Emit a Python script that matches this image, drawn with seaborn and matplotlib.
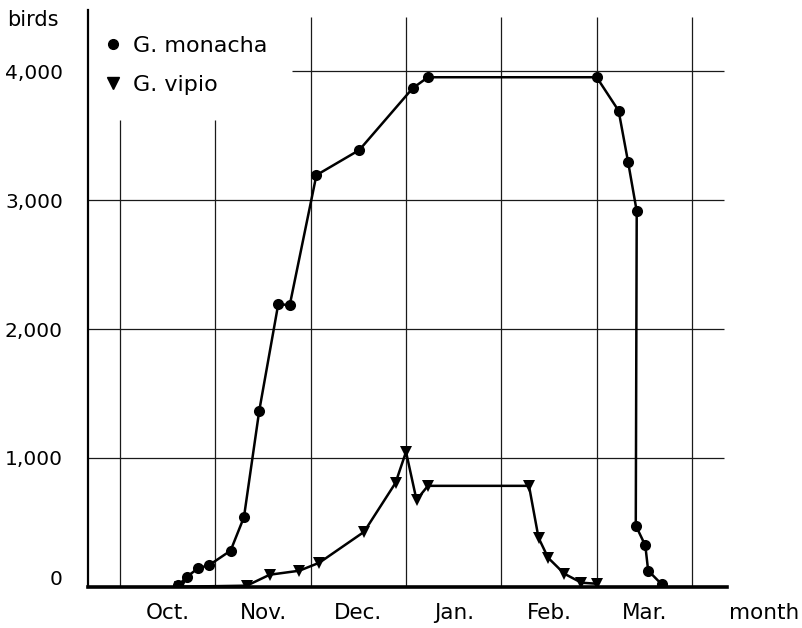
import matplotlib
matplotlib.use("Agg")
import matplotlib.pyplot as plt
import matplotlib.transforms as mtransforms
from matplotlib.lines import Line2D
import numpy as np
import pandas as pd
import seaborn as sns

# ---- data (x = months counted from 1 October) ----
monacha_month = [0.61, 0.70, 0.82, 0.93, 1.16, 1.30, 1.46, 1.66, 1.78, 2.06, 2.51,
                 3.07, 3.23, 5.00, 5.23, 5.33, 5.42, 5.41, 5.51, 5.54, 5.68]
monacha_birds = [10, 75, 145, 165, 280, 540, 1365, 2195, 2185, 3195, 3390,
                 3870, 3955, 3955, 3695, 3295, 2915, 475, 320, 125, 20]

vipio_month = [0.63, 1.33, 1.57, 1.88, 2.09, 2.56, 2.89, 3.00, 3.11, 3.23,
               4.29, 4.39, 4.49, 4.66, 4.84, 5.00]
vipio_birds = [0, 8, 93, 124, 186, 426, 806, 1047, 674, 783,
               783, 380, 225, 101, 31, 23]

month_labels = ["Oct.", "Nov.", "Dec.", "Jan.", "Feb.", "Mar."]
month_bounds = [0, 1, 2, 3, 4, 5, 6]
y_ticks = [0, 1000, 2000, 3000, 4000]
y_labels = ["0", "1,000", "2,000", "3,000", "4,000"]
species = ["G. monacha", "G. vipio"]

df = pd.concat([
    pd.DataFrame({"month": monacha_month, "birds": monacha_birds, "species": species[0]}),
    pd.DataFrame({"month": vipio_month, "birds": vipio_birds, "species": species[1]}),
], ignore_index=True)

sns.set_style("white")
plt.rcParams["font.family"] = ["DejaVu Sans"]
plt.rcParams["text.color"] = "black"

W, H = 803, 628
fig = plt.figure(figsize=(W / 100, H / 100), dpi=100)
ax = fig.add_axes([88 / W, (H - 586.7) / H, (727 - 88) / W, (586.7 - 10) / H])

XMIN, XMAX = -0.336, 6.367
YMAX = 4477
ax.set_xlim(XMIN, XMAX)
ax.set_ylim(0, YMAX)

# grid lines (as in the figure, partially drawn)
gkw = dict(color="#1a1a1a", lw=0.9, zorder=1)
for b in month_bounds:
    top = 3625 if b < 2 else 4420
    ax.vlines(b, 0, top, **gkw)
for t in y_ticks[1:]:
    x0 = 1.80 if t == 4000 else XMIN
    ax.hlines(t, x0, 6.34, **gkw)

sns.lineplot(data=df, x="month", y="birds", hue="species", style="species",
             palette={s: "black" for s in species},
             markers={species[0]: "o", species[1]: "v"}, dashes=False,
             sort=False, estimator=None, legend=False, ax=ax,
             lw=1.8, markersize=8, markeredgewidth=0, zorder=3)

ax.set_xlabel("")
ax.set_ylabel("")
ax.set_xticks([b + 0.5 for b in month_bounds[:-1]])
ax.set_xticklabels(month_labels, fontsize=15.5, color="black")
ax.set_yticks(y_ticks)
ax.set_yticklabels(y_labels, fontsize=14.5, color="black")
ax.tick_params(axis="both", length=0, colors="black", labelcolor="black")
ax.tick_params(axis="y", pad=18)
ax.tick_params(axis="x", pad=12)

# lift the "0" label a little as in the original
off = mtransforms.ScaledTranslation(0, 0.09, fig.dpi_scale_trans)
lab0 = ax.get_yticklabels()[0]
lab0.set_transform(lab0.get_transform() + off)

for s in ["top", "right"]:
    ax.spines[s].set_visible(False)
ax.spines["left"].set_linewidth(1.6)
ax.spines["bottom"].set_linewidth(2.6)
ax.spines["left"].set_color("black")
ax.spines["bottom"].set_color("black")

handles = [Line2D([], [], color="black", marker="o", ls="none", markersize=7),
           Line2D([], [], color="black", marker="v", ls="none", markersize=9)]
leg = ax.legend(handles, species, loc="upper left",
                bbox_to_anchor=(104 / W, 1 - 36 / H), bbox_transform=fig.transFigure,
                frameon=False, fontsize=16, handlelength=0.8, handletextpad=0.5,
                labelspacing=0.85, borderpad=0, borderaxespad=0, labelcolor="black")

fig.text(7 / W, 1 - 20 / H, "birds", ha="left", va="center", fontsize=15, color="black")
fig.text(764 / W, 1 - 613 / H, "month", ha="center", va="center", fontsize=15.5,
         color="black")

fig.savefig("out.png", dpi=100, facecolor="white")
